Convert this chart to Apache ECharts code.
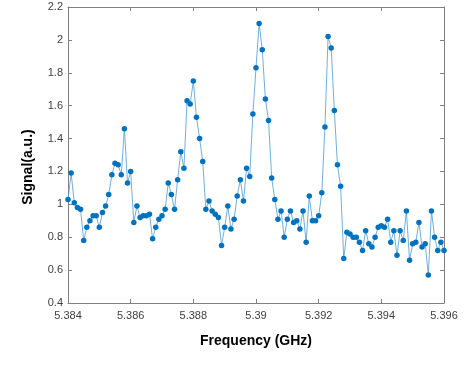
<!DOCTYPE html>
<html>
<head>
<meta charset="utf-8">
<script src="https://cdn.jsdelivr.net/npm/echarts@6/dist/echarts.min.js"></script>
<style>
  html, body { margin: 0; padding: 0; background: #fff; }
  #eChart { width: 476px; height: 369px; }
</style>
</head>
<body>
<div id="eChart"></div>
<script>
// sample grid: 5.384 .. 5.396 GHz, step 0.0001
var freqStart = 5.384;
var freqStep = 0.0001;

// signal values, one per frequency step
var signal = [
    1.03, 1.19, 1.01, 0.98, 0.97, 0.78, 0.86, 0.90, 0.93, 0.93,
    0.86, 0.95, 0.99, 1.06, 1.18, 1.25, 1.24, 1.18, 1.46, 1.13,
    1.20, 0.89, 0.99, 0.92, 0.93, 0.93, 0.94, 0.79, 0.86, 0.91,
    0.93, 0.97, 1.13, 1.06, 0.97, 1.15, 1.32, 1.22, 1.63, 1.61,
    1.75, 1.53, 1.40, 1.26, 0.97, 1.02, 0.96, 0.94, 0.92, 0.75,
    0.86, 0.99, 0.85, 0.91, 1.05, 1.15, 1.02, 1.22, 1.17, 1.55,
    1.83, 2.10, 1.94, 1.64, 1.51, 1.16, 1.03, 0.91, 0.96, 0.80,
    0.91, 0.96, 0.89, 0.90, 0.85, 0.96, 0.77, 1.05, 0.90, 0.90,
    0.93, 1.07, 1.47, 2.02, 1.95, 1.57, 1.24, 1.11, 0.67, 0.83,
    0.82, 0.80, 0.80, 0.77, 0.72, 0.84, 0.76, 0.74, 0.80, 0.86,
    0.87, 0.86, 0.91, 0.77, 0.84, 0.69, 0.84, 0.78, 0.96, 0.66,
    0.76, 0.77, 0.89, 0.74, 0.76, 0.57, 0.96, 0.80, 0.72, 0.77,
    0.72
];

var xTicks = { min: 5.384, max: 5.396, interval: 0.002 };
var yTicks = { min: 0.4, max: 2.2, interval: 0.2 };

var points = [];
for (var i = 0; i < signal.length; i++) {
    points.push([+(freqStart + i * freqStep).toFixed(4), signal[i]]);
}

var axisGrey = '#808080';
var labelFont = { color: '#404040', fontSize: 11, fontFamily: 'Liberation Sans, Arial, sans-serif' };
var titleFont = { color: '#000', fontSize: 14, fontWeight: 'bold', fontFamily: 'Liberation Sans, Arial, sans-serif' };

function trimNum(v) {
    return String(parseFloat(v.toFixed(3)));
}

var myChart = echarts.init(document.getElementById('eChart'));

var option = {
    animation: false,
    grid: { left: 68, top: 7, right: 32, bottom: 66, containLabel: false },
    xAxis: [
        {
            type: 'value',
            min: xTicks.min,
            max: xTicks.max,
            interval: xTicks.interval,
            name: 'Frequency (GHz)',
            nameLocation: 'middle',
            nameGap: 31,
            nameTextStyle: titleFont,
            axisLine: { show: true, lineStyle: { color: axisGrey, width: 1 } },
            axisTick: { show: true, inside: true, length: 4, lineStyle: { color: axisGrey } },
            axisLabel: Object.assign({ margin: 7, formatter: trimNum }, labelFont),
            splitLine: { show: false }
        },
        {
            type: 'value',
            position: 'top',
            min: xTicks.min,
            max: xTicks.max,
            interval: xTicks.interval,
            axisLine: { show: true, lineStyle: { color: axisGrey, width: 1 } },
            axisTick: { show: true, inside: true, length: 4, lineStyle: { color: axisGrey } },
            axisLabel: { show: false },
            splitLine: { show: false }
        }
    ],
    yAxis: [
        {
            type: 'value',
            min: yTicks.min,
            max: yTicks.max,
            interval: yTicks.interval,
            name: 'Signal(a.u.)',
            nameLocation: 'middle',
            nameGap: 33,
            nameTextStyle: Object.assign({ padding: [0, 24, 0, 0] }, titleFont),
            axisLine: { show: true, lineStyle: { color: axisGrey, width: 1 } },
            axisTick: { show: true, inside: true, length: 4, lineStyle: { color: axisGrey } },
            axisLabel: Object.assign({ margin: 5, formatter: function (v) { return trimNum(v); } }, labelFont),
            splitLine: { show: false }
        },
        {
            type: 'value',
            position: 'right',
            min: yTicks.min,
            max: yTicks.max,
            interval: yTicks.interval,
            axisLine: { show: true, lineStyle: { color: axisGrey, width: 1 } },
            axisTick: { show: true, inside: true, length: 4, lineStyle: { color: axisGrey } },
            axisLabel: { show: false },
            splitLine: { show: false }
        }
    ],
    series: [
        {
            type: 'line',
            data: points,
            symbol: 'circle',
            symbolSize: 5.5,
            itemStyle: { color: '#0072BD' },
            lineStyle: { color: '#4d9ad0', width: 0.8 }
        }
    ]
};

myChart.setOption(option);
</script>
</body>
</html>
